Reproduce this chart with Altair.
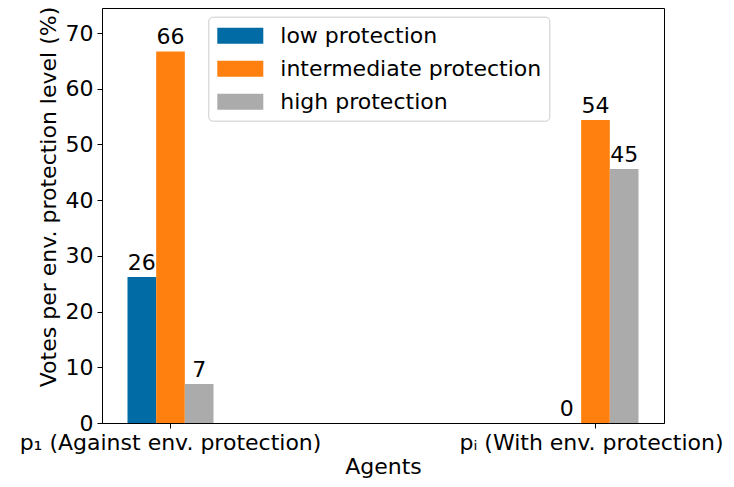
import altair as alt
import pandas as pd

agents = ["p\u2081 (Against env. protection)", "p\u1d62 (With env. protection)"]
levels = ["low protection", "intermediate protection", "high protection"]
colors = ["#006BA4", "#FF800E", "#ABABAB"]
values_p1 = [26.2, 66.7, 7.0]
values_pi = [0.0, 54.4, 45.6]
labels_p1 = ["26", "66", "7"]
labels_pi = ["0", "54", "45"]
y_ticks = [0, 10, 20, 30, 40, 50, 60, 70]

rows = []
for agent, vals, labs in [(agents[0], values_p1, labels_p1), (agents[1], values_pi, labels_pi)]:
    for lev, v, l in zip(levels, vals, labs):
        rows.append({"agent": agent, "level": lev, "value": v, "label": l})
df = pd.DataFrame(rows)

FONT = "DejaVu Sans"
FS = 22

x_enc = alt.X(
    "agent:N",
    sort=agents,
    scale=alt.Scale(paddingInner=0.7976, paddingOuter=0.06),
    axis=alt.Axis(
        title="Agents",
        labelAngle=0,
        labelFontSize=FS,
        labelFont=FONT,
        labelLimit=0,
        labelOverlap=False,
        labelPadding=4,
        labelOffset={"condition": {"test": "datum.index == 1", "value": -4}, "value": 0},
        tickSize=5,
        titleFontSize=FS,
        titleFont=FONT,
        titleFontWeight="normal",
        titleBaseline="alphabetic",
        titleY=50,
    ),
)
xo_enc = alt.XOffset("level:N", sort=levels, scale=alt.Scale(paddingInner=0, paddingOuter=0))
y_enc = alt.Y(
    "value:Q",
    scale=alt.Scale(domain=[0, 74.5], nice=False, zero=True),
    axis=alt.Axis(
        title="Votes per env. protection level (%)",
        values=y_ticks,
        grid=False,
        labelFontSize=FS,
        labelFont=FONT,
        labelPadding=4,
        tickSize=5,
        titleFontSize=FS,
        titleFont=FONT,
        titleFontWeight="normal",
        titleAngle=270,
        titleBaseline="alphabetic",
        titleAlign="center",
        titleX=-47,
        titleY=188.5,
        titleLimit=1000,
    ),
)

bars = alt.Chart(df).mark_bar().encode(
    x=x_enc,
    xOffset=xo_enc,
    y=y_enc,
    color=alt.Color(
        "level:N",
        sort=levels,
        scale=alt.Scale(domain=levels, range=colors),
        legend=alt.Legend(
            title=None,
            orient="none",
            legendX=106.3,
            legendY=8.7,
            labelFontSize=FS,
            labelFont=FONT,
            labelLimit=500,
            symbolType="M-2.875,-1L2.875,-1L2.875,1L-2.875,1Z",
            symbolSize=256,
            symbolStrokeWidth=0,
            symbolOpacity=1,
            symbolOffset=13,
            labelOffset=29,
            rowPadding=11,
            padding=8,
            strokeColor="#cccccc",
            fillColor="white",
            cornerRadius=4,
        ),
    ),
)

text = alt.Chart(df).mark_text(
    baseline="alphabetic", align="center", dy=-7, fontSize=FS, font=FONT, color="black"
).encode(
    x=alt.X("agent:N", sort=agents),
    xOffset=alt.XOffset("level:N", sort=levels),
    y=alt.Y("value:Q"),
    text="label:N",
)

chart = (
    alt.layer(bars, text)
    .properties(
        width=562,
        height=415,
        autosize=alt.AutoSizeParams(type="none"),
        padding={"left": 94, "top": 0, "right": 62, "bottom": 56},
    )
    .configure_view(stroke="black", strokeWidth=1)
    .configure_axis(domainColor="black", tickColor="black", labelColor="black", titleColor="black")
)

chart.save("out.html", embed_options={"renderer": "svg", "actions": False})
